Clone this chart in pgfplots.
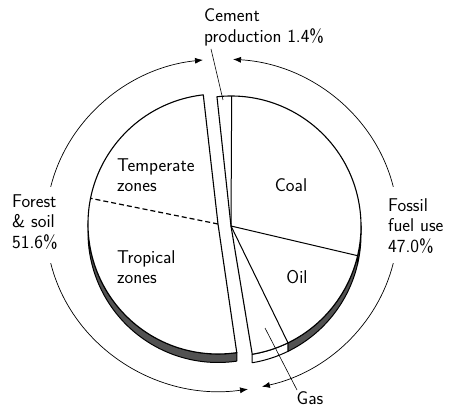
\documentclass[border=0pt]{standalone}
\usepackage{fontspec}
\usepackage{pgfplots}
\usepackage{pgfplotstable}
\pgfplotsset{compat=1.18}
\usetikzlibrary{arrows.meta}

\definecolor{rimgray}{gray}{0.32}

% slices of the pie, angles in degrees
% div: line at angle a (0 none, 1 solid, 2 dashed)
\pgfplotstableread{
name      cx  cy  a      b      div
Cement    231 184 89.7   96.2   1
Coal      231 184 -13.2  89.7   1
Oil       231 184 -64.0  -13.2  1
Gas       231 184 -80.6  -64.0  0
Temperate 218 186 96.5   168.6  0
Tropical  218 186 168.6  278.3  2
}\slices

% the two exploded pieces
\pgfplotstableread{
piece cx  cy  a      b
Right 231 184 -80.6  96.2
Left  218 186 96.5   278.3
}\pieces

% visible side (rim) of the pie
\pgfplotstableread{
cx  cy  ra     rb     col
231 184 -13.2  0      rimgray
231 184 -64.0  -13.2  rimgray
231 184 -80.6  -64.0  white
218 186 180    278.3  rimgray
}\rims

\def\R{130pt}
\def\H{8.5pt}

\newcommand\getcell[4]{\pgfplotstablegetelem{#2}{#3}\of#1\edef#4{\pgfplotsretval}}

\newcommand\drawrim[1]{%
  \getcell\rims{#1}{cx}\cx \getcell\rims{#1}{cy}\cy
  \getcell\rims{#1}{ra}\sa \getcell\rims{#1}{rb}\sb
  \getcell\rims{#1}{col}\sc
  \edef\cmd{\noexpand\filldraw[fill=\sc, line width=1pt, line join=round]
    (axis cs:\cx,\cy) ++(\sa:\R) arc[start angle=\sa, end angle=\sb, radius=\R]
    -- ++(0,-\H) arc[start angle=\sb, end angle=\sa, radius=\R] -- cycle;}\cmd}

\newcommand\drawface[1]{%
  \getcell\slices{#1}{cx}\cx \getcell\slices{#1}{cy}\cy
  \getcell\slices{#1}{a}\sa \getcell\slices{#1}{b}\sb
  \edef\cmd{\noexpand\fill[white] (axis cs:\cx,\cy) -- ++(\sa:\R)
    arc[start angle=\sa, end angle=\sb, radius=\R] -- cycle;}\cmd}

\newcommand\drawpiece[1]{%
  \getcell\pieces{#1}{cx}\cx \getcell\pieces{#1}{cy}\cy
  \getcell\pieces{#1}{a}\sa \getcell\pieces{#1}{b}\sb
  \edef\cmd{\noexpand\draw[line width=1.1pt, line join=round] (axis cs:\cx,\cy) -- ++(\sa:\R)
    arc[start angle=\sa, end angle=\sb, radius=\R] -- cycle;}\cmd}

\newcommand\drawdiv[1]{%
  \getcell\slices{#1}{cx}\cx \getcell\slices{#1}{cy}\cy
  \getcell\slices{#1}{a}\sa \getcell\slices{#1}{div}\dv
  \ifcase\dv\relax
  \or \edef\cmd{\noexpand\draw[line width=1pt] (axis cs:\cx,\cy) -- ++(\sa:\R);}\cmd
  \or \edef\cmd{\noexpand\draw[line width=1.2pt, dash pattern=on 5pt off 3pt] (axis cs:\cx,\cy) -- ++(\sa:\R);}\cmd
  \fi}

\begin{document}
\begin{tikzpicture}
\begin{axis}[
  x=1pt, y=1pt,
  xmin=0, xmax=450, ymin=0, ymax=410,
  enlargelimits=false,
  hide axis, clip=false,
]
\path (axis cs:0,0) rectangle (axis cs:450,410);

\pgfplotsinvokeforeach{0,...,3}{\drawrim{#1}}
\pgfplotsinvokeforeach{0,...,5}{\drawface{#1}}
\pgfplotsinvokeforeach{0,1}{\drawpiece{#1}}
\pgfplotsinvokeforeach{0,...,5}{\drawdiv{#1}}

% outer guide arcs with arrows
\tikzset{guide/.style={line width=0.7pt, -{Latex[length=8pt,width=6pt]}}}
\draw[guide] (axis cs:222,185) ++(166.7:176pt and 166pt)
  arc[start angle=166.7, end angle=96.2, x radius=176pt, y radius=166pt];
\draw[guide] (axis cs:222,185) ++(193.3:176pt and 166pt)
  arc[start angle=193.3, end angle=278.5, x radius=176pt, y radius=166pt];
\draw[guide] (axis cs:222,185) ++(13.3:176pt and 166pt)
  arc[start angle=13.3, end angle=86.4, x radius=176pt, y radius=166pt];
\draw[guide] (axis cs:222,185) ++(-13.3:176pt and 166pt)
  arc[start angle=-13.3, end angle=-76.9, x radius=176pt, y radius=166pt];

% pointer lines
\draw[line width=0.6pt] (axis cs:211,361) -- (axis cs:223,310);
\draw[line width=0.6pt] (axis cs:265,82) -- (axis cs:297,20);

% labels
\tikzset{lbl/.style={inner sep=0pt, align=left, font=\fontsize{18.5}{20.5}\selectfont\sffamily}}
\node[lbl, anchor=west] at (axis cs:204,382.5) {Cement\\production 1.4\%};
\node[lbl, anchor=west] at (axis cs:12,188) {Forest\\\& soil\\51.6\%};
\node[lbl, anchor=west] at (axis cs:388,184) {Fossil\\fuel use\\47.0\%};
\node[lbl, anchor=west] at (axis cs:117,235) {Temperate\\zones};
\node[lbl, anchor=west] at (axis cs:117,143) {Tropical\\zones};
\node[lbl] at (axis cs:291,225) {Coal};
\node[lbl] at (axis cs:297,133) {Oil};
\node[lbl] at (axis cs:310,12) {Gas};
\end{axis}
\end{tikzpicture}
\end{document}
